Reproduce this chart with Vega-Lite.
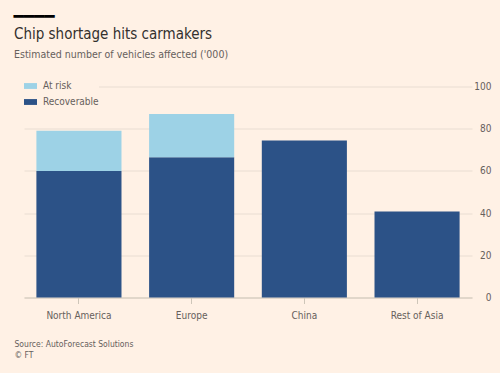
{
  "$schema": "https://vega.github.io/schema/vega-lite/v6.json",
  "autosize": "none",
  "width": 448,
  "height": 211,
  "padding": {"left": 24, "top": 86.5, "right": 28, "bottom": 75.5},
  "background": "#FFF1E5",
  "config": {
    "view": {"stroke": null},
    "font": "DejaVu Sans Condensed"
  },
  "title": {
    "text": "Chip shortage hits carmakers",
    "subtitle": "Estimated number of vehicles affected ('000)",
    "anchor": "start",
    "frame": "group",
    "dx": -10,
    "dy": 81,
    "offset": 28,
    "font": "DejaVu Sans Condensed",
    "fontSize": 15,
    "fontWeight": "normal",
    "color": "#33302E",
    "subtitleFont": "DejaVu Sans Condensed",
    "subtitleFontSize": 10.5,
    "subtitleColor": "#66605C",
    "subtitlePadding": 8
  },
  "data": {
    "values": [
      {"region": "North America", "type": "Recoverable", "value": 60},
      {"region": "North America", "type": "At risk", "value": 19},
      {"region": "Europe", "type": "Recoverable", "value": 66.5},
      {"region": "Europe", "type": "At risk", "value": 20.5},
      {"region": "China", "type": "Recoverable", "value": 74.4},
      {"region": "Rest of Asia", "type": "Recoverable", "value": 40.7}
    ]
  },
  "mark": {"type": "bar"},
  "encoding": {
    "x": {
      "field": "region",
      "type": "nominal",
      "sort": ["North America", "Europe", "China", "Rest of Asia"],
      "scale": {"paddingInner": 0.245, "paddingOuter": 0.11},
      "axis": {
        "labelAngle": 0,
        "labelFontSize": 10,
        "labelColor": "#66605C",
        "labelPadding": 7,
        "domainColor": "#CEC6B9",
        "tickColor": "#CEC6B9",
        "tickSize": 6,
        "title": ["Source: AutoForecast Solutions", "© FT"],
        "titleAnchor": "start",
        "titleAlign": "left",
        "titleBaseline": "alphabetic",
        "titleX": -10,
        "titleY": 49,
        "titleFontSize": 8.5,
        "titleFontWeight": "normal",
        "titleColor": "#66605C",
        "titleLineHeight": 11
      }
    },
    "y": {
      "field": "value",
      "type": "quantitative",
      "stack": "zero",
      "scale": {"domain": [0, 100]},
      "axis": {
        "orient": "right",
        "values": [0, 20, 40, 60, 80, 100],
        "ticks": false,
        "domain": false,
        "grid": true,
        "gridColor": "#E9DDD2",
        "labelAlign": "right",
        "labelBaseline": "middle",
        "labelPadding": 19,
        "labelFontSize": 10,
        "labelColor": "#66605C",
        "title": "━━━━",
        "titleAngle": 0,
        "titleAlign": "left",
        "titleBaseline": "middle",
        "titleX": -459,
        "titleY": -70.5,
        "titleFont": "DejaVu Sans",
        "titleFontSize": 17,
        "titleFontWeight": "normal",
        "titleColor": "#000000"
      }
    },
    "color": {
      "field": "type",
      "type": "nominal",
      "scale": {"domain": ["At risk", "Recoverable"], "range": ["#9DD2E6", "#2C5287"]},
      "legend": {
        "title": null,
        "orient": "none",
        "legendX": 0,
        "legendY": -7,
        "fillColor": "#FFF1E5",
        "padding": 0,
        "symbolType": "M-1,-0.45H1V0.45H-1Z",
        "symbolSize": 169,
        "symbolOpacity": 1,
        "symbolStrokeWidth": 0,
        "labelFontSize": 10,
        "labelColor": "#66605C",
        "labelOffset": 6,
        "rowPadding": 4,
        "offset": 0
      }
    },
    "order": {"field": "type", "sort": "descending"}
  }
}
